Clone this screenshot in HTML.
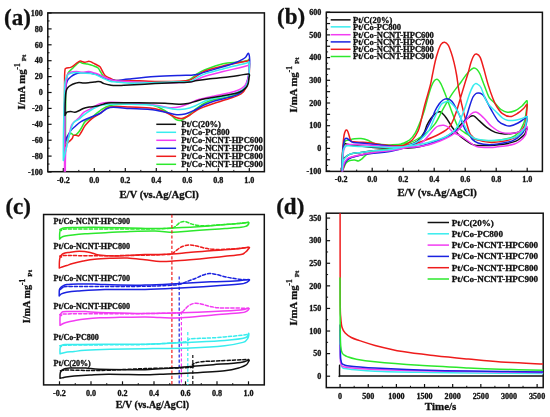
<!DOCTYPE html>
<html><head><meta charset="utf-8"><style>
html,body{margin:0;padding:0;background:#fff;}
svg{display:block;filter:blur(0.35px);}
text{stroke:#111;stroke-width:0.3px;}
</style></head><body>
<svg width="550" height="417" viewBox="0 0 550 417">
<rect width="550" height="417" fill="#fff"/>
<g font-family='"Liberation Serif", serif' font-weight="bold" fill="#111" stroke="none">
<rect x="47.8" y="12.9" width="216.59999999999997" height="158.79999999999998" fill="none" stroke="#111" stroke-width="1.5"/>
<line x1="47.80" y1="172.00" x2="51.60" y2="172.00" stroke="#111" stroke-width="1.2"/>
<text x="42.80" y="174.70" font-size="8.1" text-anchor="end" >-100</text>
<line x1="47.80" y1="156.10" x2="51.60" y2="156.10" stroke="#111" stroke-width="1.2"/>
<text x="42.80" y="158.80" font-size="8.1" text-anchor="end" >-80</text>
<line x1="47.80" y1="140.20" x2="51.60" y2="140.20" stroke="#111" stroke-width="1.2"/>
<text x="42.80" y="142.90" font-size="8.1" text-anchor="end" >-60</text>
<line x1="47.80" y1="124.30" x2="51.60" y2="124.30" stroke="#111" stroke-width="1.2"/>
<text x="42.80" y="127.00" font-size="8.1" text-anchor="end" >-40</text>
<line x1="47.80" y1="108.40" x2="51.60" y2="108.40" stroke="#111" stroke-width="1.2"/>
<text x="42.80" y="111.10" font-size="8.1" text-anchor="end" >-20</text>
<line x1="47.80" y1="92.50" x2="51.60" y2="92.50" stroke="#111" stroke-width="1.2"/>
<text x="42.80" y="95.20" font-size="8.1" text-anchor="end" >0</text>
<line x1="47.80" y1="76.60" x2="51.60" y2="76.60" stroke="#111" stroke-width="1.2"/>
<text x="42.80" y="79.30" font-size="8.1" text-anchor="end" >20</text>
<line x1="47.80" y1="60.70" x2="51.60" y2="60.70" stroke="#111" stroke-width="1.2"/>
<text x="42.80" y="63.40" font-size="8.1" text-anchor="end" >40</text>
<line x1="47.80" y1="44.80" x2="51.60" y2="44.80" stroke="#111" stroke-width="1.2"/>
<text x="42.80" y="47.50" font-size="8.1" text-anchor="end" >60</text>
<line x1="47.80" y1="28.90" x2="51.60" y2="28.90" stroke="#111" stroke-width="1.2"/>
<text x="42.80" y="31.60" font-size="8.1" text-anchor="end" >80</text>
<line x1="47.80" y1="13.00" x2="51.60" y2="13.00" stroke="#111" stroke-width="1.2"/>
<text x="42.80" y="15.70" font-size="8.1" text-anchor="end" >100</text>
<line x1="47.80" y1="164.05" x2="49.60" y2="164.05" stroke="#111" stroke-width="1.0"/>
<line x1="47.80" y1="148.15" x2="49.60" y2="148.15" stroke="#111" stroke-width="1.0"/>
<line x1="47.80" y1="132.25" x2="49.60" y2="132.25" stroke="#111" stroke-width="1.0"/>
<line x1="47.80" y1="116.35" x2="49.60" y2="116.35" stroke="#111" stroke-width="1.0"/>
<line x1="47.80" y1="100.45" x2="49.60" y2="100.45" stroke="#111" stroke-width="1.0"/>
<line x1="47.80" y1="84.55" x2="49.60" y2="84.55" stroke="#111" stroke-width="1.0"/>
<line x1="47.80" y1="68.65" x2="49.60" y2="68.65" stroke="#111" stroke-width="1.0"/>
<line x1="47.80" y1="52.75" x2="49.60" y2="52.75" stroke="#111" stroke-width="1.0"/>
<line x1="47.80" y1="36.85" x2="49.60" y2="36.85" stroke="#111" stroke-width="1.0"/>
<line x1="47.80" y1="20.95" x2="49.60" y2="20.95" stroke="#111" stroke-width="1.0"/>
<line x1="63.30" y1="171.70" x2="63.30" y2="168.10" stroke="#111" stroke-width="1.2"/>
<text x="63.30" y="182.70" font-size="8.1" text-anchor="middle" >-0.2</text>
<line x1="94.30" y1="171.70" x2="94.30" y2="168.10" stroke="#111" stroke-width="1.2"/>
<text x="94.30" y="182.70" font-size="8.1" text-anchor="middle" >0.0</text>
<line x1="125.30" y1="171.70" x2="125.30" y2="168.10" stroke="#111" stroke-width="1.2"/>
<text x="125.30" y="182.70" font-size="8.1" text-anchor="middle" >0.2</text>
<line x1="156.30" y1="171.70" x2="156.30" y2="168.10" stroke="#111" stroke-width="1.2"/>
<text x="156.30" y="182.70" font-size="8.1" text-anchor="middle" >0.4</text>
<line x1="187.30" y1="171.70" x2="187.30" y2="168.10" stroke="#111" stroke-width="1.2"/>
<text x="187.30" y="182.70" font-size="8.1" text-anchor="middle" >0.6</text>
<line x1="218.30" y1="171.70" x2="218.30" y2="168.10" stroke="#111" stroke-width="1.2"/>
<text x="218.30" y="182.70" font-size="8.1" text-anchor="middle" >0.8</text>
<line x1="249.30" y1="171.70" x2="249.30" y2="168.10" stroke="#111" stroke-width="1.2"/>
<text x="249.30" y="182.70" font-size="8.1" text-anchor="middle" >1.0</text>
<line x1="78.80" y1="171.70" x2="78.80" y2="169.90" stroke="#111" stroke-width="1.0"/>
<line x1="109.80" y1="171.70" x2="109.80" y2="169.90" stroke="#111" stroke-width="1.0"/>
<line x1="140.80" y1="171.70" x2="140.80" y2="169.90" stroke="#111" stroke-width="1.0"/>
<line x1="171.80" y1="171.70" x2="171.80" y2="169.90" stroke="#111" stroke-width="1.0"/>
<line x1="202.80" y1="171.70" x2="202.80" y2="169.90" stroke="#111" stroke-width="1.0"/>
<line x1="233.80" y1="171.70" x2="233.80" y2="169.90" stroke="#111" stroke-width="1.0"/>
<rect x="326.3" y="12.3" width="216.09999999999997" height="159.1" fill="none" stroke="#111" stroke-width="1.5"/>
<line x1="326.30" y1="171.10" x2="330.10" y2="171.10" stroke="#111" stroke-width="1.2"/>
<text x="321.30" y="173.80" font-size="8.1" text-anchor="end" >-100</text>
<line x1="326.30" y1="159.75" x2="330.10" y2="159.75" stroke="#111" stroke-width="1.2"/>
<line x1="326.30" y1="148.40" x2="330.10" y2="148.40" stroke="#111" stroke-width="1.2"/>
<text x="321.30" y="151.10" font-size="8.1" text-anchor="end" >0</text>
<line x1="326.30" y1="137.05" x2="330.10" y2="137.05" stroke="#111" stroke-width="1.2"/>
<line x1="326.30" y1="125.70" x2="330.10" y2="125.70" stroke="#111" stroke-width="1.2"/>
<text x="321.30" y="128.40" font-size="8.1" text-anchor="end" >100</text>
<line x1="326.30" y1="114.35" x2="330.10" y2="114.35" stroke="#111" stroke-width="1.2"/>
<line x1="326.30" y1="103.00" x2="330.10" y2="103.00" stroke="#111" stroke-width="1.2"/>
<text x="321.30" y="105.70" font-size="8.1" text-anchor="end" >200</text>
<line x1="326.30" y1="91.65" x2="330.10" y2="91.65" stroke="#111" stroke-width="1.2"/>
<line x1="326.30" y1="80.30" x2="330.10" y2="80.30" stroke="#111" stroke-width="1.2"/>
<text x="321.30" y="83.00" font-size="8.1" text-anchor="end" >300</text>
<line x1="326.30" y1="68.95" x2="330.10" y2="68.95" stroke="#111" stroke-width="1.2"/>
<line x1="326.30" y1="57.60" x2="330.10" y2="57.60" stroke="#111" stroke-width="1.2"/>
<text x="321.30" y="60.30" font-size="8.1" text-anchor="end" >400</text>
<line x1="326.30" y1="46.25" x2="330.10" y2="46.25" stroke="#111" stroke-width="1.2"/>
<line x1="326.30" y1="34.90" x2="330.10" y2="34.90" stroke="#111" stroke-width="1.2"/>
<text x="321.30" y="37.60" font-size="8.1" text-anchor="end" >500</text>
<line x1="326.30" y1="23.55" x2="330.10" y2="23.55" stroke="#111" stroke-width="1.2"/>
<line x1="326.30" y1="12.20" x2="330.10" y2="12.20" stroke="#111" stroke-width="1.2"/>
<text x="321.30" y="14.90" font-size="8.1" text-anchor="end" >600</text>
<line x1="326.30" y1="165.42" x2="328.10" y2="165.42" stroke="#111" stroke-width="1.0"/>
<line x1="326.30" y1="154.07" x2="328.10" y2="154.07" stroke="#111" stroke-width="1.0"/>
<line x1="326.30" y1="142.72" x2="328.10" y2="142.72" stroke="#111" stroke-width="1.0"/>
<line x1="326.30" y1="131.38" x2="328.10" y2="131.38" stroke="#111" stroke-width="1.0"/>
<line x1="326.30" y1="120.03" x2="328.10" y2="120.03" stroke="#111" stroke-width="1.0"/>
<line x1="326.30" y1="108.68" x2="328.10" y2="108.68" stroke="#111" stroke-width="1.0"/>
<line x1="326.30" y1="97.33" x2="328.10" y2="97.33" stroke="#111" stroke-width="1.0"/>
<line x1="326.30" y1="85.98" x2="328.10" y2="85.98" stroke="#111" stroke-width="1.0"/>
<line x1="326.30" y1="74.62" x2="328.10" y2="74.62" stroke="#111" stroke-width="1.0"/>
<line x1="326.30" y1="63.28" x2="328.10" y2="63.28" stroke="#111" stroke-width="1.0"/>
<line x1="326.30" y1="51.92" x2="328.10" y2="51.92" stroke="#111" stroke-width="1.0"/>
<line x1="326.30" y1="40.58" x2="328.10" y2="40.58" stroke="#111" stroke-width="1.0"/>
<line x1="326.30" y1="29.23" x2="328.10" y2="29.23" stroke="#111" stroke-width="1.0"/>
<line x1="326.30" y1="17.88" x2="328.10" y2="17.88" stroke="#111" stroke-width="1.0"/>
<line x1="341.20" y1="171.40" x2="341.20" y2="167.80" stroke="#111" stroke-width="1.2"/>
<text x="341.20" y="182.40" font-size="8.1" text-anchor="middle" >-0.2</text>
<line x1="372.20" y1="171.40" x2="372.20" y2="167.80" stroke="#111" stroke-width="1.2"/>
<text x="372.20" y="182.40" font-size="8.1" text-anchor="middle" >0.0</text>
<line x1="403.20" y1="171.40" x2="403.20" y2="167.80" stroke="#111" stroke-width="1.2"/>
<text x="403.20" y="182.40" font-size="8.1" text-anchor="middle" >0.2</text>
<line x1="434.20" y1="171.40" x2="434.20" y2="167.80" stroke="#111" stroke-width="1.2"/>
<text x="434.20" y="182.40" font-size="8.1" text-anchor="middle" >0.4</text>
<line x1="465.20" y1="171.40" x2="465.20" y2="167.80" stroke="#111" stroke-width="1.2"/>
<text x="465.20" y="182.40" font-size="8.1" text-anchor="middle" >0.6</text>
<line x1="496.20" y1="171.40" x2="496.20" y2="167.80" stroke="#111" stroke-width="1.2"/>
<text x="496.20" y="182.40" font-size="8.1" text-anchor="middle" >0.8</text>
<line x1="527.20" y1="171.40" x2="527.20" y2="167.80" stroke="#111" stroke-width="1.2"/>
<text x="527.20" y="182.40" font-size="8.1" text-anchor="middle" >1.0</text>
<line x1="356.70" y1="171.40" x2="356.70" y2="169.60" stroke="#111" stroke-width="1.0"/>
<line x1="387.70" y1="171.40" x2="387.70" y2="169.60" stroke="#111" stroke-width="1.0"/>
<line x1="418.70" y1="171.40" x2="418.70" y2="169.60" stroke="#111" stroke-width="1.0"/>
<line x1="449.70" y1="171.40" x2="449.70" y2="169.60" stroke="#111" stroke-width="1.0"/>
<line x1="480.70" y1="171.40" x2="480.70" y2="169.60" stroke="#111" stroke-width="1.0"/>
<line x1="511.70" y1="171.40" x2="511.70" y2="169.60" stroke="#111" stroke-width="1.0"/>
<rect x="43.6" y="214.5" width="220.70000000000002" height="170.39999999999998" fill="none" stroke="#111" stroke-width="1.5"/>
<line x1="59.50" y1="384.90" x2="59.50" y2="381.30" stroke="#111" stroke-width="1.2"/>
<text x="59.50" y="395.90" font-size="8.1" text-anchor="middle" >-0.2</text>
<line x1="91.00" y1="384.90" x2="91.00" y2="381.30" stroke="#111" stroke-width="1.2"/>
<text x="91.00" y="395.90" font-size="8.1" text-anchor="middle" >0.0</text>
<line x1="122.50" y1="384.90" x2="122.50" y2="381.30" stroke="#111" stroke-width="1.2"/>
<text x="122.50" y="395.90" font-size="8.1" text-anchor="middle" >0.2</text>
<line x1="154.00" y1="384.90" x2="154.00" y2="381.30" stroke="#111" stroke-width="1.2"/>
<text x="154.00" y="395.90" font-size="8.1" text-anchor="middle" >0.4</text>
<line x1="185.50" y1="384.90" x2="185.50" y2="381.30" stroke="#111" stroke-width="1.2"/>
<text x="185.50" y="395.90" font-size="8.1" text-anchor="middle" >0.6</text>
<line x1="217.00" y1="384.90" x2="217.00" y2="381.30" stroke="#111" stroke-width="1.2"/>
<text x="217.00" y="395.90" font-size="8.1" text-anchor="middle" >0.8</text>
<line x1="248.50" y1="384.90" x2="248.50" y2="381.30" stroke="#111" stroke-width="1.2"/>
<text x="248.50" y="395.90" font-size="8.1" text-anchor="middle" >1.0</text>
<line x1="75.25" y1="384.90" x2="75.25" y2="383.10" stroke="#111" stroke-width="1.0"/>
<line x1="106.75" y1="384.90" x2="106.75" y2="383.10" stroke="#111" stroke-width="1.0"/>
<line x1="138.25" y1="384.90" x2="138.25" y2="383.10" stroke="#111" stroke-width="1.0"/>
<line x1="169.75" y1="384.90" x2="169.75" y2="383.10" stroke="#111" stroke-width="1.0"/>
<line x1="201.25" y1="384.90" x2="201.25" y2="383.10" stroke="#111" stroke-width="1.0"/>
<line x1="232.75" y1="384.90" x2="232.75" y2="383.10" stroke="#111" stroke-width="1.0"/>
<rect x="326.3" y="213.2" width="216.90000000000003" height="174.40000000000003" fill="none" stroke="#111" stroke-width="1.5"/>
<line x1="326.30" y1="376.20" x2="330.10" y2="376.20" stroke="#111" stroke-width="1.2"/>
<text x="321.30" y="378.90" font-size="8.1" text-anchor="end" >0</text>
<line x1="326.30" y1="353.62" x2="330.10" y2="353.62" stroke="#111" stroke-width="1.2"/>
<text x="321.30" y="356.31" font-size="8.1" text-anchor="end" >50</text>
<line x1="326.30" y1="331.03" x2="330.10" y2="331.03" stroke="#111" stroke-width="1.2"/>
<text x="321.30" y="333.73" font-size="8.1" text-anchor="end" >100</text>
<line x1="326.30" y1="308.44" x2="330.10" y2="308.44" stroke="#111" stroke-width="1.2"/>
<text x="321.30" y="311.14" font-size="8.1" text-anchor="end" >150</text>
<line x1="326.30" y1="285.86" x2="330.10" y2="285.86" stroke="#111" stroke-width="1.2"/>
<text x="321.30" y="288.56" font-size="8.1" text-anchor="end" >200</text>
<line x1="326.30" y1="263.27" x2="330.10" y2="263.27" stroke="#111" stroke-width="1.2"/>
<text x="321.30" y="265.97" font-size="8.1" text-anchor="end" >250</text>
<line x1="326.30" y1="240.69" x2="330.10" y2="240.69" stroke="#111" stroke-width="1.2"/>
<text x="321.30" y="243.39" font-size="8.1" text-anchor="end" >300</text>
<line x1="326.30" y1="218.10" x2="330.10" y2="218.10" stroke="#111" stroke-width="1.2"/>
<text x="321.30" y="220.80" font-size="8.1" text-anchor="end" >350</text>
<line x1="326.30" y1="387.49" x2="328.10" y2="387.49" stroke="#111" stroke-width="1.0"/>
<line x1="326.30" y1="364.91" x2="328.10" y2="364.91" stroke="#111" stroke-width="1.0"/>
<line x1="326.30" y1="342.32" x2="328.10" y2="342.32" stroke="#111" stroke-width="1.0"/>
<line x1="326.30" y1="319.74" x2="328.10" y2="319.74" stroke="#111" stroke-width="1.0"/>
<line x1="326.30" y1="297.15" x2="328.10" y2="297.15" stroke="#111" stroke-width="1.0"/>
<line x1="326.30" y1="274.57" x2="328.10" y2="274.57" stroke="#111" stroke-width="1.0"/>
<line x1="326.30" y1="251.98" x2="328.10" y2="251.98" stroke="#111" stroke-width="1.0"/>
<line x1="326.30" y1="229.40" x2="328.10" y2="229.40" stroke="#111" stroke-width="1.0"/>
<line x1="340.10" y1="387.60" x2="340.10" y2="384.00" stroke="#111" stroke-width="1.2"/>
<text x="340.10" y="398.60" font-size="8.1" text-anchor="middle" >0</text>
<line x1="368.25" y1="387.60" x2="368.25" y2="384.00" stroke="#111" stroke-width="1.2"/>
<text x="368.25" y="398.60" font-size="8.1" text-anchor="middle" >500</text>
<line x1="396.39" y1="387.60" x2="396.39" y2="384.00" stroke="#111" stroke-width="1.2"/>
<text x="396.39" y="398.60" font-size="8.1" text-anchor="middle" >1000</text>
<line x1="424.54" y1="387.60" x2="424.54" y2="384.00" stroke="#111" stroke-width="1.2"/>
<text x="424.54" y="398.60" font-size="8.1" text-anchor="middle" >1500</text>
<line x1="452.68" y1="387.60" x2="452.68" y2="384.00" stroke="#111" stroke-width="1.2"/>
<text x="452.68" y="398.60" font-size="8.1" text-anchor="middle" >2000</text>
<line x1="480.83" y1="387.60" x2="480.83" y2="384.00" stroke="#111" stroke-width="1.2"/>
<text x="480.83" y="398.60" font-size="8.1" text-anchor="middle" >2500</text>
<line x1="508.97" y1="387.60" x2="508.97" y2="384.00" stroke="#111" stroke-width="1.2"/>
<text x="508.97" y="398.60" font-size="8.1" text-anchor="middle" >3000</text>
<line x1="537.12" y1="387.60" x2="537.12" y2="384.00" stroke="#111" stroke-width="1.2"/>
<text x="537.12" y="398.60" font-size="8.1" text-anchor="middle" >3500</text>
<line x1="354.17" y1="387.60" x2="354.17" y2="385.80" stroke="#111" stroke-width="1.0"/>
<line x1="382.32" y1="387.60" x2="382.32" y2="385.80" stroke="#111" stroke-width="1.0"/>
<line x1="410.46" y1="387.60" x2="410.46" y2="385.80" stroke="#111" stroke-width="1.0"/>
<line x1="438.61" y1="387.60" x2="438.61" y2="385.80" stroke="#111" stroke-width="1.0"/>
<line x1="466.75" y1="387.60" x2="466.75" y2="385.80" stroke="#111" stroke-width="1.0"/>
<line x1="494.90" y1="387.60" x2="494.90" y2="385.80" stroke="#111" stroke-width="1.0"/>
<line x1="523.04" y1="387.60" x2="523.04" y2="385.80" stroke="#111" stroke-width="1.0"/>
<text x="4.00" y="24.60" font-size="23" text-anchor="start" >(a)</text>
<text x="277.00" y="24.00" font-size="23" text-anchor="start" >(b)</text>
<text x="5.40" y="214.00" font-size="23" text-anchor="start" >(c)</text>
<text x="276.20" y="214.40" font-size="23" text-anchor="start" >(d)</text>
<text x="159.10" y="197.50" font-size="10.7" text-anchor="middle" >E/V (vs.Ag/AgCl)</text>
<text x="437.20" y="196.20" font-size="10.7" text-anchor="middle" >E/V (vs.Ag/AgCl)</text>
<text x="152.30" y="407.90" font-size="9.9" text-anchor="middle" >E/V (vs.Ag/AgCl)</text>
<text x="440.60" y="410.10" font-size="11" text-anchor="middle" >Time/s</text>
<text transform="translate(24.6,109.6) rotate(-90)" font-size="10.7" text-anchor="start">I/mA mg<tspan font-size="7.4" dy="-5.0">-1</tspan><tspan font-size="7.0" dy="6.7" dx="2.2">Pt</tspan></text>
<text transform="translate(297.0,112.4) rotate(-90)" font-size="10.7" text-anchor="start">I/mA mg<tspan font-size="7.4" dy="-5.0">-1</tspan><tspan font-size="7.0" dy="6.7" dx="2.2">Pt</tspan></text>
<text transform="translate(30.3,323.2) rotate(-90)" font-size="10.2" text-anchor="start">I/mA mg<tspan font-size="7.4" dy="-5.0">-1</tspan><tspan font-size="7.0" dy="6.7" dx="2.2">Pt</tspan></text>
<text transform="translate(297.0,325.6) rotate(-90)" font-size="10.7" text-anchor="start">I/mA mg<tspan font-size="7.4" dy="-5.0">-1</tspan><tspan font-size="7.0" dy="6.7" dx="2.2">Pt</tspan></text>
<defs>
<clipPath id="ca"><rect x="47.8" y="12.9" width="216.59999999999997" height="158.79999999999998"/></clipPath>
<clipPath id="cb"><rect x="326.3" y="12.3" width="216.09999999999997" height="159.1"/></clipPath>
<clipPath id="cc"><rect x="43.6" y="214.5" width="220.70000000000002" height="170.39999999999998"/></clipPath>
<clipPath id="cd"><rect x="326.3" y="213.2" width="216.90000000000003" height="174.40000000000003"/></clipPath>
</defs>
<g clip-path="url(#ca)">
<path d="M65.50,143.00 C65.50,140.83 65.47,136.33 65.50,130.00 C65.53,123.67 65.62,112.00 65.70,105.00 C65.78,98.00 65.82,92.50 66.00,88.00 C66.18,83.50 66.43,80.53 66.80,78.00 C67.17,75.47 67.17,74.47 68.20,72.80 C69.23,71.13 71.60,69.40 73.00,68.00 C74.40,66.60 75.50,65.40 76.60,64.40 C77.70,63.40 78.60,62.20 79.60,62.00 C80.60,61.80 81.30,62.85 82.60,63.20 C83.90,63.55 86.00,63.80 87.40,64.10 C88.80,64.40 89.82,64.65 91.00,65.00 C92.18,65.35 93.32,65.70 94.50,66.20 C95.68,66.70 97.18,67.20 98.10,68.00 C99.02,68.80 99.18,69.70 100.00,71.00 C100.82,72.30 101.92,74.60 103.00,75.80 C104.08,77.00 105.33,77.60 106.50,78.20 C107.67,78.80 108.45,78.97 110.00,79.40 C111.55,79.83 112.63,80.40 115.80,80.80 C118.97,81.20 122.47,81.53 129.00,81.80 C135.53,82.07 146.67,82.37 155.00,82.40 C163.33,82.43 173.20,82.50 179.00,82.00 C184.80,81.50 186.80,80.73 189.80,79.40 C192.80,78.07 194.47,75.60 197.00,74.00 C199.53,72.40 200.67,71.50 205.00,69.80 C209.33,68.10 217.40,65.10 223.00,63.80 C228.60,62.50 234.52,62.57 238.60,62.00 C242.68,61.43 245.77,60.78 247.50,60.40 C249.23,60.02 248.70,58.43 249.00,59.70 C249.30,60.97 249.38,64.95 249.30,68.00 C249.22,71.05 249.05,75.00 248.50,78.00 C247.95,81.00 247.25,83.67 246.00,86.00 C244.75,88.33 243.67,90.25 241.00,92.00 C238.33,93.75 234.43,95.23 230.00,96.50 C225.57,97.77 218.57,98.52 214.40,99.60 C210.23,100.68 207.90,101.60 205.00,103.00 C202.10,104.40 199.50,106.17 197.00,108.00 C194.50,109.83 192.50,112.00 190.00,114.00 C187.50,116.00 184.33,119.08 182.00,120.00 C179.67,120.92 178.00,120.50 176.00,119.50 C174.00,118.50 172.67,115.92 170.00,114.00 C167.33,112.08 163.33,109.58 160.00,108.00 C156.67,106.42 155.00,105.17 150.00,104.50 C145.00,103.83 136.67,103.83 130.00,104.00 C123.33,104.17 115.02,104.37 110.00,105.50 C104.98,106.63 102.92,108.82 99.90,110.80 C96.88,112.78 94.33,115.63 91.90,117.40 C89.47,119.17 87.05,119.63 85.30,121.40 C83.55,123.17 82.50,126.23 81.40,128.00 C80.30,129.77 79.58,130.90 78.70,132.00 C77.82,133.10 76.97,134.07 76.10,134.60 C75.23,135.13 74.38,135.42 73.50,135.20 C72.62,134.98 71.68,133.08 70.80,133.30 C69.92,133.52 68.95,135.30 68.20,136.50 C67.45,137.70 66.75,139.42 66.30,140.50 C65.85,141.58 65.63,142.58 65.50,143.00" fill="none" stroke="#2CE82C" stroke-width="1.5" stroke-linejoin="round" stroke-linecap="round" />
<path d="M64.60,148.00 C64.58,144.17 64.52,133.83 64.50,125.00 C64.48,116.17 64.48,103.17 64.50,95.00 C64.52,86.83 64.52,80.17 64.60,76.00 C64.68,71.83 64.80,71.27 65.00,70.00 C65.20,68.73 64.87,68.83 65.80,68.40 C66.73,67.97 69.40,67.77 70.60,67.40 C71.80,67.03 72.00,66.90 73.00,66.20 C74.00,65.50 75.40,64.05 76.60,63.20 C77.80,62.35 79.20,61.35 80.20,61.10 C81.20,60.85 81.80,61.50 82.60,61.70 C83.40,61.90 84.10,62.35 85.00,62.30 C85.90,62.25 87.10,61.52 88.00,61.40 C88.90,61.28 89.52,61.30 90.40,61.60 C91.28,61.90 92.20,62.63 93.30,63.20 C94.40,63.77 95.88,64.40 97.00,65.00 C98.12,65.60 99.12,65.80 100.00,66.80 C100.88,67.80 101.42,69.50 102.30,71.00 C103.18,72.50 104.02,74.60 105.30,75.80 C106.58,77.00 108.25,77.42 110.00,78.20 C111.75,78.98 112.63,80.13 115.80,80.50 C118.97,80.87 122.47,80.25 129.00,80.40 C135.53,80.55 146.67,81.27 155.00,81.40 C163.33,81.53 173.20,81.43 179.00,81.20 C184.80,80.97 186.80,80.90 189.80,80.00 C192.80,79.10 194.47,77.30 197.00,75.80 C199.53,74.30 200.67,72.65 205.00,71.00 C209.33,69.35 217.40,67.27 223.00,65.90 C228.60,64.53 234.52,63.60 238.60,62.80 C242.68,62.00 245.77,61.48 247.50,61.10 C249.23,60.72 248.68,59.02 249.00,60.50 C249.32,61.98 249.42,67.20 249.40,70.00 C249.38,72.80 249.38,74.47 248.90,77.30 C248.42,80.13 247.82,84.22 246.50,87.00 C245.18,89.78 243.95,92.03 241.00,94.00 C238.05,95.97 233.23,97.27 228.80,98.80 C224.37,100.33 218.37,101.92 214.40,103.20 C210.43,104.48 207.90,105.37 205.00,106.50 C202.10,107.63 199.50,108.58 197.00,110.00 C194.50,111.42 192.50,113.58 190.00,115.00 C187.50,116.42 184.33,118.08 182.00,118.50 C179.67,118.92 178.00,118.17 176.00,117.50 C174.00,116.83 172.67,115.75 170.00,114.50 C167.33,113.25 163.33,111.08 160.00,110.00 C156.67,108.92 155.00,108.50 150.00,108.00 C145.00,107.50 136.67,107.17 130.00,107.00 C123.33,106.83 115.02,105.92 110.00,107.00 C104.98,108.08 102.92,111.55 99.90,113.50 C96.88,115.45 94.33,116.73 91.90,118.70 C89.47,120.67 87.05,123.08 85.30,125.30 C83.55,127.52 82.50,130.23 81.40,132.00 C80.30,133.77 79.58,135.37 78.70,135.90 C77.82,136.43 76.97,135.27 76.10,135.20 C75.23,135.13 74.15,134.95 73.50,135.50 C72.85,136.05 72.87,137.55 72.20,138.50 C71.53,139.45 70.38,140.32 69.50,141.20 C68.62,142.08 67.67,142.80 66.90,143.80 C66.13,144.80 65.28,146.50 64.90,147.20 C64.52,147.90 64.65,147.87 64.60,148.00" fill="none" stroke="#EE1C1C" stroke-width="1.5" stroke-linejoin="round" stroke-linecap="round" />
<path d="M64.50,143.70 C64.50,140.58 64.48,131.45 64.50,125.00 C64.52,118.55 64.48,110.50 64.60,105.00 C64.72,99.50 64.93,95.33 65.20,92.00 C65.47,88.67 65.82,86.92 66.20,85.00 C66.58,83.08 66.77,81.83 67.50,80.50 C68.23,79.17 69.28,78.08 70.60,77.00 C71.92,75.92 73.80,74.70 75.40,74.00 C77.00,73.30 78.40,73.00 80.20,72.80 C82.00,72.60 84.22,72.70 86.20,72.80 C88.18,72.90 90.30,73.10 92.10,73.40 C93.90,73.70 95.40,74.00 97.00,74.60 C98.60,75.20 100.12,76.30 101.70,77.00 C103.28,77.70 105.12,78.40 106.50,78.80 C107.88,79.20 108.45,79.12 110.00,79.40 C111.55,79.68 112.63,80.57 115.80,80.50 C118.97,80.43 122.47,79.65 129.00,79.00 C135.53,78.35 146.67,77.20 155.00,76.60 C163.33,76.00 173.20,75.63 179.00,75.40 C184.80,75.17 186.80,75.33 189.80,75.20 C192.80,75.07 194.47,75.12 197.00,74.60 C199.53,74.08 200.67,73.40 205.00,72.10 C209.33,70.80 218.33,68.23 223.00,66.80 C227.67,65.37 230.50,64.37 233.00,63.50 C235.50,62.63 236.50,62.25 238.00,61.60 C239.50,60.95 240.73,60.33 242.00,59.60 C243.27,58.87 244.52,58.23 245.60,57.20 C246.68,56.17 247.82,52.93 248.50,53.40 C249.18,53.87 249.57,57.23 249.70,60.00 C249.83,62.77 249.55,67.12 249.30,70.00 C249.05,72.88 248.98,74.28 248.20,77.30 C247.42,80.32 246.15,85.35 244.60,88.10 C243.05,90.85 241.53,92.25 238.90,93.80 C236.27,95.35 232.88,96.20 228.80,97.40 C224.72,98.60 218.37,99.82 214.40,101.00 C210.43,102.18 208.23,103.00 205.00,104.50 C201.77,106.00 198.33,108.42 195.00,110.00 C191.67,111.58 188.33,113.25 185.00,114.00 C181.67,114.75 178.33,114.83 175.00,114.50 C171.67,114.17 169.17,112.83 165.00,112.00 C160.83,111.17 155.83,110.08 150.00,109.50 C144.17,108.92 136.67,108.83 130.00,108.50 C123.33,108.17 115.02,106.67 110.00,107.50 C104.98,108.33 102.92,111.95 99.90,113.50 C96.88,115.05 94.98,115.48 91.90,116.80 C88.82,118.12 84.25,119.75 81.40,121.40 C78.55,123.05 76.57,125.17 74.80,126.70 C73.03,128.23 72.12,128.85 70.80,130.60 C69.48,132.35 67.95,135.02 66.90,137.20 C65.85,139.38 64.90,142.62 64.50,143.70" fill="none" stroke="#1A22E0" stroke-width="1.5" stroke-linejoin="round" stroke-linecap="round" />
<path d="M64.50,175.00 C64.52,170.83 64.52,160.00 64.60,150.00 C64.68,140.00 64.83,124.67 65.00,115.00 C65.17,105.33 65.43,97.17 65.60,92.00 C65.77,86.83 65.83,86.17 66.00,84.00 C66.17,81.83 66.33,80.58 66.60,79.00 C66.87,77.42 66.93,75.63 67.60,74.50 C68.27,73.37 69.10,72.68 70.60,72.20 C72.10,71.72 74.60,71.60 76.60,71.60 C78.60,71.60 80.60,72.20 82.60,72.20 C84.60,72.20 86.62,71.47 88.60,71.60 C90.58,71.73 92.72,72.50 94.50,73.00 C96.28,73.50 97.70,73.93 99.30,74.60 C100.90,75.27 102.32,76.20 104.10,77.00 C105.88,77.80 108.05,78.77 110.00,79.40 C111.95,80.03 112.63,80.43 115.80,80.80 C118.97,81.17 121.63,81.27 129.00,81.60 C136.37,81.93 151.67,82.63 160.00,82.80 C168.33,82.97 174.03,82.72 179.00,82.60 C183.97,82.48 186.80,82.63 189.80,82.10 C192.80,81.57 194.47,80.37 197.00,79.40 C199.53,78.43 200.67,77.62 205.00,76.30 C209.33,74.98 217.40,72.88 223.00,71.50 C228.60,70.12 234.52,68.98 238.60,68.00 C242.68,67.02 245.77,66.10 247.50,65.60 C249.23,65.10 248.73,64.27 249.00,65.00 C249.27,65.73 249.18,68.25 249.10,70.00 C249.02,71.75 248.80,73.67 248.50,75.50 C248.20,77.33 247.97,79.27 247.30,81.00 C246.63,82.73 245.97,84.40 244.50,85.90 C243.03,87.40 241.12,88.80 238.50,90.00 C235.88,91.20 232.82,92.10 228.80,93.10 C224.78,94.10 218.37,95.18 214.40,96.00 C210.43,96.82 207.90,97.33 205.00,98.00 C202.10,98.67 199.50,99.17 197.00,100.00 C194.50,100.83 192.83,101.87 190.00,103.00 C187.17,104.13 183.33,106.00 180.00,106.80 C176.67,107.60 173.33,107.93 170.00,107.80 C166.67,107.67 163.33,106.55 160.00,106.00 C156.67,105.45 155.00,105.00 150.00,104.50 C145.00,104.00 136.67,103.37 130.00,103.00 C123.33,102.63 115.02,102.20 110.00,102.30 C104.98,102.40 102.92,102.62 99.90,103.60 C96.88,104.58 94.55,106.77 91.90,108.20 C89.25,109.63 86.20,110.55 84.00,112.20 C81.80,113.85 80.23,116.57 78.70,118.10 C77.17,119.63 75.98,120.25 74.80,121.40 C73.62,122.55 72.48,123.07 71.60,125.00 C70.72,126.93 70.22,130.00 69.50,133.00 C68.78,136.00 67.95,139.53 67.30,143.00 C66.65,146.47 65.93,148.47 65.60,153.80 C65.27,159.13 65.35,171.47 65.30,175.00" fill="none" stroke="#F23CF2" stroke-width="1.5" stroke-linejoin="round" stroke-linecap="round" />
<path d="M63.30,160.50 C63.32,157.08 63.32,147.58 63.40,140.00 C63.48,132.42 63.63,122.50 63.80,115.00 C63.97,107.50 64.20,100.50 64.40,95.00 C64.60,89.50 64.57,85.20 65.00,82.00 C65.43,78.80 66.07,77.23 67.00,75.80 C67.93,74.37 69.00,73.95 70.60,73.40 C72.20,72.85 74.60,72.55 76.60,72.50 C78.60,72.45 80.20,72.95 82.60,73.10 C85.00,73.25 88.60,73.05 91.00,73.40 C93.40,73.75 95.00,74.40 97.00,75.20 C99.00,76.00 100.83,77.20 103.00,78.20 C105.17,79.20 107.87,80.57 110.00,81.20 C112.13,81.83 112.63,81.67 115.80,82.00 C118.97,82.33 122.47,83.13 129.00,83.20 C135.53,83.27 146.67,82.63 155.00,82.40 C163.33,82.17 173.20,81.97 179.00,81.80 C184.80,81.63 186.80,82.10 189.80,81.40 C192.80,80.70 194.47,78.85 197.00,77.60 C199.53,76.35 200.67,75.35 205.00,73.90 C209.33,72.45 217.40,70.38 223.00,68.90 C228.60,67.42 234.52,66.02 238.60,65.00 C242.68,63.98 245.77,63.30 247.50,62.80 C249.23,62.30 248.70,60.80 249.00,62.00 C249.30,63.20 249.33,67.45 249.30,70.00 C249.27,72.55 249.10,75.13 248.80,77.30 C248.50,79.47 248.20,81.22 247.50,83.00 C246.80,84.78 246.03,86.55 244.60,88.00 C243.17,89.45 241.53,90.48 238.90,91.70 C236.27,92.92 232.88,94.22 228.80,95.30 C224.72,96.38 218.37,97.25 214.40,98.20 C210.43,99.15 208.23,99.70 205.00,101.00 C201.77,102.30 198.33,104.67 195.00,106.00 C191.67,107.33 188.33,108.47 185.00,109.00 C181.67,109.53 178.33,109.45 175.00,109.20 C171.67,108.95 169.17,108.20 165.00,107.50 C160.83,106.80 155.83,105.55 150.00,105.00 C144.17,104.45 136.67,104.33 130.00,104.20 C123.33,104.07 115.00,103.98 110.00,104.20 C105.00,104.42 103.02,104.62 100.00,105.50 C96.98,106.38 94.57,107.95 91.90,109.50 C89.23,111.05 86.20,113.15 84.00,114.80 C81.80,116.45 80.45,118.08 78.70,119.40 C76.95,120.72 74.88,120.77 73.50,122.70 C72.12,124.63 71.40,127.62 70.40,131.00 C69.40,134.38 68.37,139.42 67.50,143.00 C66.63,146.58 65.90,149.58 65.20,152.50 C64.50,155.42 63.62,159.17 63.30,160.50" fill="none" stroke="#38ECEE" stroke-width="1.5" stroke-linejoin="round" stroke-linecap="round" />
<path d="M65.00,115.40 C65.03,113.50 65.10,107.40 65.20,104.00 C65.30,100.60 65.42,97.25 65.60,95.00 C65.78,92.75 65.98,91.67 66.30,90.50 C66.62,89.33 66.78,88.85 67.50,88.00 C68.22,87.15 69.28,86.18 70.60,85.40 C71.92,84.62 74.00,83.80 75.40,83.30 C76.80,82.80 77.60,82.45 79.00,82.40 C80.40,82.35 82.00,82.97 83.80,83.00 C85.60,83.03 88.02,82.75 89.80,82.60 C91.58,82.45 93.12,82.30 94.50,82.10 C95.88,81.90 97.10,81.45 98.10,81.40 C99.10,81.35 99.50,81.43 100.50,81.80 C101.50,82.17 102.52,83.07 104.10,83.60 C105.68,84.13 108.05,84.67 110.00,85.00 C111.95,85.33 112.63,85.60 115.80,85.60 C118.97,85.60 122.47,85.33 129.00,85.00 C135.53,84.67 146.67,84.00 155.00,83.60 C163.33,83.20 173.20,82.85 179.00,82.60 C184.80,82.35 186.80,82.43 189.80,82.10 C192.80,81.77 193.63,81.15 197.00,80.60 C200.37,80.05 205.67,79.32 210.00,78.80 C214.33,78.28 218.23,78.05 223.00,77.50 C227.77,76.95 234.32,76.08 238.60,75.50 C242.88,74.92 246.98,73.58 248.70,74.00 C250.42,74.42 248.97,76.50 248.90,78.00 C248.83,79.50 248.70,81.50 248.30,83.00 C247.90,84.50 247.38,85.80 246.50,87.00 C245.62,88.20 244.58,89.20 243.00,90.20 C241.42,91.20 240.50,92.03 237.00,93.00 C233.50,93.97 227.33,95.03 222.00,96.00 C216.67,96.97 209.50,97.88 205.00,98.80 C200.50,99.72 197.83,100.72 195.00,101.50 C192.17,102.28 190.50,103.03 188.00,103.50 C185.50,103.97 183.83,104.33 180.00,104.30 C176.17,104.27 170.00,103.52 165.00,103.30 C160.00,103.08 155.83,103.08 150.00,103.00 C144.17,102.92 136.50,102.83 130.00,102.80 C123.50,102.77 115.33,102.62 111.00,102.80 C106.67,102.98 106.30,103.37 104.00,103.90 C101.70,104.43 99.65,105.47 97.20,106.00 C94.75,106.53 91.50,106.73 89.30,107.10 C87.10,107.47 85.77,107.58 84.00,108.20 C82.23,108.82 80.23,110.13 78.70,110.80 C77.17,111.47 76.12,112.08 74.80,112.20 C73.48,112.32 72.12,111.50 70.80,111.50 C69.48,111.50 67.87,111.55 66.90,112.20 C65.93,112.85 65.32,114.87 65.00,115.40" fill="none" stroke="#111111" stroke-width="1.5" stroke-linejoin="round" stroke-linecap="round" />
</g>
<g clip-path="url(#cb)">
<path d="M342.90,158.00 C342.88,157.00 342.75,153.75 342.80,152.00 C342.85,150.25 342.98,148.73 343.20,147.50 C343.42,146.27 343.73,145.25 344.10,144.60 C344.47,143.95 344.88,143.65 345.40,143.60 C345.92,143.55 345.65,143.97 347.20,144.30 C348.75,144.63 350.33,145.08 354.70,145.60 C359.07,146.12 367.35,147.00 373.40,147.40 C379.45,147.80 384.07,147.98 391.00,148.00 C397.93,148.02 408.50,148.17 415.00,147.50 C421.50,146.83 425.50,145.42 430.00,144.00 C434.50,142.58 438.28,140.67 442.00,139.00 C445.72,137.33 449.63,135.92 452.30,134.00 C454.97,132.08 456.08,129.58 458.00,127.50 C459.92,125.42 461.90,123.25 463.80,121.50 C465.70,119.75 467.75,117.93 469.40,117.00 C471.05,116.07 472.02,115.25 473.70,115.90 C475.38,116.55 477.33,118.98 479.50,120.90 C481.67,122.82 484.07,125.48 486.70,127.40 C489.33,129.32 492.35,131.32 495.30,132.40 C498.25,133.48 501.12,133.80 504.40,133.90 C507.68,134.00 512.07,133.57 515.00,133.00 C517.93,132.43 519.98,131.32 522.00,130.50 C524.02,129.68 526.43,128.02 527.10,128.10 C527.77,128.18 526.42,129.93 526.00,131.00 C525.58,132.07 525.60,133.25 524.60,134.50 C523.60,135.75 521.45,137.40 520.00,138.50 C518.55,139.60 518.40,140.18 515.90,141.10 C513.40,142.02 509.32,143.28 505.00,144.00 C500.68,144.72 494.73,145.17 490.00,145.40 C485.27,145.63 479.77,145.65 476.60,145.40 C473.43,145.15 473.37,145.13 471.00,143.90 C468.63,142.67 464.57,139.65 462.40,138.00 C460.23,136.35 459.68,135.75 458.00,134.00 C456.32,132.25 454.22,130.13 452.30,127.50 C450.38,124.87 448.22,120.62 446.50,118.20 C444.78,115.78 443.20,114.08 442.00,113.00 C440.80,111.92 440.47,111.57 439.30,111.70 C438.13,111.83 436.43,112.63 435.00,113.80 C433.57,114.97 432.03,116.83 430.70,118.70 C429.37,120.57 428.15,122.60 427.00,125.00 C425.85,127.40 425.52,130.32 423.80,133.10 C422.08,135.88 419.57,139.63 416.70,141.70 C413.83,143.77 410.88,144.22 406.60,145.50 C402.32,146.78 396.53,148.53 391.00,149.40 C385.47,150.27 378.40,150.20 373.40,150.70 C368.40,151.20 364.73,151.87 361.00,152.40 C357.27,152.93 353.50,153.20 351.00,153.90 C348.50,154.60 347.25,155.77 346.00,156.60 C344.75,157.43 344.02,158.67 343.50,158.90 C342.98,159.13 343.00,158.15 342.90,158.00" fill="none" stroke="#111111" stroke-width="1.5" stroke-linejoin="round" stroke-linecap="round" />
<path d="M341.80,172.00 C341.88,169.67 342.07,162.17 342.30,158.00 C342.53,153.83 342.83,149.67 343.20,147.00 C343.57,144.33 343.95,143.10 344.50,142.00 C345.05,140.90 345.83,140.73 346.50,140.40 C347.17,140.07 347.13,140.28 348.50,140.00 C349.87,139.72 352.62,138.95 354.70,138.70 C356.78,138.45 358.92,138.28 361.00,138.50 C363.08,138.72 365.13,139.23 367.20,140.00 C369.27,140.77 371.33,142.38 373.40,143.10 C375.47,143.82 376.67,144.00 379.60,144.30 C382.53,144.60 385.93,145.20 391.00,144.90 C396.07,144.60 404.33,144.32 410.00,142.50 C415.67,140.68 420.83,137.10 425.00,134.00 C429.17,130.90 431.90,128.22 435.00,123.90 C438.10,119.58 440.72,113.13 443.60,108.10 C446.48,103.07 449.42,98.02 452.30,93.70 C455.18,89.38 458.62,85.32 460.90,82.20 C463.18,79.08 464.48,76.95 466.00,75.00 C467.52,73.05 468.72,71.65 470.00,70.50 C471.28,69.35 472.53,68.27 473.70,68.10 C474.87,67.93 475.95,68.52 477.00,69.50 C478.05,70.48 479.00,71.92 480.00,74.00 C481.00,76.08 481.88,79.03 483.00,82.00 C484.12,84.97 485.62,89.13 486.70,91.80 C487.78,94.47 488.07,96.03 489.50,98.00 C490.93,99.97 493.38,101.68 495.30,103.60 C497.22,105.52 499.00,108.05 501.00,109.50 C503.00,110.95 504.97,112.08 507.30,112.30 C509.63,112.52 512.55,111.85 515.00,110.80 C517.45,109.75 519.98,107.67 522.00,106.00 C524.02,104.33 526.38,99.97 527.10,100.80 C527.82,101.63 526.72,107.65 526.30,111.00 C525.88,114.35 525.40,118.07 524.60,120.90 C523.80,123.73 522.47,126.08 521.50,128.00 C520.53,129.92 520.45,130.82 518.80,132.40 C517.15,133.98 515.20,136.17 511.60,137.50 C508.00,138.83 501.63,139.90 497.20,140.40 C492.77,140.90 488.70,140.70 485.00,140.50 C481.30,140.30 478.00,140.28 475.00,139.20 C472.00,138.12 469.12,135.37 467.00,134.00 C464.88,132.63 463.80,132.20 462.30,131.00 C460.80,129.80 459.43,129.18 458.00,126.80 C456.57,124.42 455.13,120.30 453.70,116.70 C452.27,113.10 450.83,109.03 449.40,105.20 C447.97,101.37 446.53,97.30 445.10,93.70 C443.67,90.10 442.07,85.98 440.80,83.60 C439.53,81.22 438.55,79.92 437.50,79.40 C436.45,78.88 435.50,79.40 434.50,80.50 C433.50,81.60 432.58,83.25 431.50,86.00 C430.42,88.75 429.17,93.00 428.00,97.00 C426.83,101.00 425.67,106.17 424.50,110.00 C423.33,113.83 422.55,116.15 421.00,120.00 C419.45,123.85 417.12,129.77 415.20,133.10 C413.28,136.43 411.65,138.27 409.50,140.00 C407.35,141.73 405.38,142.08 402.30,143.50 C399.22,144.92 394.78,147.33 391.00,148.50 C387.22,149.67 383.37,149.72 379.60,150.50 C375.83,151.28 371.30,151.83 368.40,153.20 C365.50,154.57 363.87,157.42 362.20,158.70 C360.53,159.98 359.65,160.70 358.40,160.90 C357.15,161.10 356.15,159.97 354.70,159.90 C353.25,159.83 351.15,159.98 349.70,160.50 C348.25,161.02 347.03,161.65 346.00,163.00 C344.97,164.35 344.13,167.10 343.50,168.60 C342.87,170.10 342.42,171.43 342.20,172.00" fill="none" stroke="#2CE82C" stroke-width="1.5" stroke-linejoin="round" stroke-linecap="round" />
<path d="M341.50,172.00 C341.63,169.17 342.02,159.83 342.30,155.00 C342.58,150.17 342.90,146.33 343.20,143.00 C343.50,139.67 343.73,137.03 344.10,135.00 C344.47,132.97 344.98,131.63 345.40,130.80 C345.82,129.97 346.20,129.88 346.60,130.00 C347.00,130.12 347.43,130.75 347.80,131.50 C348.17,132.25 348.38,133.17 348.80,134.50 C349.22,135.83 349.77,138.33 350.30,139.50 C350.83,140.67 351.47,141.12 352.00,141.50 C352.53,141.88 352.00,141.68 353.50,141.80 C355.00,141.92 358.08,141.98 361.00,142.20 C363.92,142.42 366.00,142.53 371.00,143.10 C376.00,143.67 384.50,145.28 391.00,145.60 C397.50,145.92 404.33,145.88 410.00,145.00 C415.67,144.12 420.10,142.13 425.00,140.30 C429.90,138.47 435.33,136.22 439.40,134.00 C443.47,131.78 446.78,130.12 449.40,127.00 C452.02,123.88 453.18,120.37 455.10,115.30 C457.02,110.23 459.22,102.12 460.90,96.60 C462.58,91.08 464.00,86.13 465.20,82.20 C466.40,78.27 467.17,76.20 468.10,73.00 C469.03,69.80 469.87,65.87 470.80,63.00 C471.73,60.13 472.73,57.28 473.70,55.80 C474.67,54.32 475.52,53.85 476.60,54.10 C477.68,54.35 479.00,54.85 480.20,57.30 C481.40,59.75 482.48,64.25 483.80,68.80 C485.12,73.35 486.55,79.57 488.10,84.60 C489.65,89.63 491.67,95.35 493.10,99.00 C494.53,102.65 495.13,104.05 496.70,106.50 C498.27,108.95 500.25,112.02 502.50,113.70 C504.75,115.38 507.62,116.72 510.20,116.60 C512.78,116.48 515.70,114.43 518.00,113.00 C520.30,111.57 522.48,109.43 524.00,108.00 C525.52,106.57 526.68,103.40 527.10,104.40 C527.52,105.40 526.80,110.77 526.50,114.00 C526.20,117.23 526.05,121.13 525.30,123.80 C524.55,126.47 523.08,128.08 522.00,130.00 C520.92,131.92 520.80,133.72 518.80,135.30 C516.80,136.88 512.40,138.53 510.00,139.50 C507.60,140.47 507.57,140.60 504.40,141.10 C501.23,141.60 495.63,142.75 491.00,142.50 C486.37,142.25 479.77,140.68 476.60,139.60 C473.43,138.52 473.18,137.17 472.00,136.00 C470.82,134.83 470.63,135.57 469.50,132.60 C468.37,129.63 466.52,123.00 465.20,118.20 C463.88,113.40 462.68,108.60 461.60,103.80 C460.52,99.00 459.53,94.20 458.70,89.40 C457.87,84.60 457.38,79.50 456.60,75.00 C455.82,70.50 454.92,66.18 454.00,62.40 C453.08,58.62 452.07,55.18 451.10,52.30 C450.13,49.42 449.28,46.77 448.20,45.10 C447.12,43.43 445.80,42.42 444.60,42.30 C443.40,42.18 442.07,42.97 441.00,44.40 C439.93,45.83 439.15,48.13 438.20,50.90 C437.25,53.67 436.27,56.98 435.30,61.00 C434.33,65.02 433.25,70.87 432.40,75.00 C431.55,79.13 431.52,80.63 430.20,85.80 C428.88,90.97 426.03,100.13 424.50,106.00 C422.97,111.87 422.07,116.83 421.00,121.00 C419.93,125.17 419.55,127.83 418.10,131.00 C416.65,134.17 414.47,137.73 412.30,140.00 C410.13,142.27 408.65,143.02 405.10,144.60 C401.55,146.18 396.28,148.15 391.00,149.50 C385.72,150.85 378.40,151.80 373.40,152.70 C368.40,153.60 364.73,154.12 361.00,154.90 C357.27,155.68 353.50,156.37 351.00,157.40 C348.50,158.43 347.25,159.43 346.00,161.10 C344.75,162.77 344.13,165.58 343.50,167.40 C342.87,169.22 342.42,171.23 342.20,172.00" fill="none" stroke="#EE1C1C" stroke-width="1.5" stroke-linejoin="round" stroke-linecap="round" />
<path d="M341.80,172.00 C341.88,169.67 342.05,162.33 342.30,158.00 C342.55,153.67 342.95,148.97 343.30,146.00 C343.65,143.03 344.02,141.47 344.40,140.20 C344.78,138.93 345.13,138.68 345.60,138.40 C346.07,138.12 346.52,138.17 347.20,138.50 C347.88,138.83 348.65,139.75 349.70,140.40 C350.75,141.05 350.58,141.85 353.50,142.40 C356.42,142.95 360.95,143.07 367.20,143.70 C373.45,144.33 383.03,145.65 391.00,146.20 C398.97,146.75 407.67,147.70 415.00,147.00 C422.33,146.30 429.73,143.75 435.00,142.00 C440.27,140.25 443.27,138.33 446.60,136.50 C449.93,134.67 452.77,132.42 455.00,131.00 C457.23,129.58 458.53,129.33 460.00,128.00 C461.47,126.67 462.63,125.17 463.80,123.00 C464.97,120.83 465.97,118.00 467.00,115.00 C468.03,112.00 469.00,108.00 470.00,105.00 C471.00,102.00 472.00,98.92 473.00,97.00 C474.00,95.08 475.05,94.17 476.00,93.50 C476.95,92.83 477.78,92.95 478.70,93.00 C479.62,93.05 480.53,93.13 481.50,93.80 C482.47,94.47 482.92,94.40 484.50,97.00 C486.08,99.60 488.72,105.42 491.00,109.40 C493.28,113.38 495.80,118.27 498.20,120.90 C500.60,123.53 503.43,124.35 505.40,125.20 C507.37,126.05 507.90,126.37 510.00,126.00 C512.10,125.63 515.67,124.17 518.00,123.00 C520.33,121.83 522.48,120.07 524.00,119.00 C525.52,117.93 526.73,115.77 527.10,116.60 C527.47,117.43 526.87,121.37 526.20,124.00 C525.53,126.63 524.47,130.15 523.10,132.40 C521.73,134.65 519.92,136.05 518.00,137.50 C516.08,138.95 514.60,140.10 511.60,141.10 C508.60,142.10 503.60,142.90 500.00,143.50 C496.40,144.10 493.67,144.78 490.00,144.70 C486.33,144.62 481.00,143.95 478.00,143.00 C475.00,142.05 473.42,140.42 472.00,139.00 C470.58,137.58 470.63,136.05 469.50,134.50 C468.37,132.95 466.87,132.90 465.20,129.70 C463.53,126.50 461.42,119.62 459.50,115.30 C457.58,110.98 455.28,106.38 453.70,103.80 C452.12,101.22 451.20,100.65 450.00,99.80 C448.80,98.95 447.67,98.67 446.50,98.70 C445.33,98.73 444.20,99.15 443.00,100.00 C441.80,100.85 440.63,101.97 439.30,103.80 C437.97,105.63 436.13,108.75 435.00,111.00 C433.87,113.25 433.88,114.33 432.50,117.30 C431.12,120.27 428.87,124.97 426.70,128.80 C424.53,132.63 422.37,137.43 419.50,140.30 C416.63,143.17 414.25,144.18 409.50,146.00 C404.75,147.82 398.05,149.87 391.00,151.20 C383.95,152.53 372.20,153.38 367.20,154.00 C362.20,154.62 363.50,154.33 361.00,154.90 C358.50,155.47 354.50,156.57 352.20,157.40 C349.90,158.23 348.65,158.45 347.20,159.90 C345.75,161.35 344.33,164.08 343.50,166.10 C342.67,168.12 342.42,171.02 342.20,172.00" fill="none" stroke="#1A22E0" stroke-width="1.5" stroke-linejoin="round" stroke-linecap="round" />
<path d="M342.50,172.00 C342.55,170.00 342.58,163.67 342.80,160.00 C343.02,156.33 343.18,152.50 343.80,150.00 C344.42,147.50 345.47,145.93 346.50,145.00 C347.53,144.07 346.55,144.42 350.00,144.40 C353.45,144.38 360.37,144.50 367.20,144.90 C374.03,145.30 382.20,146.53 391.00,146.80 C399.80,147.07 411.83,147.47 420.00,146.50 C428.17,145.53 434.17,143.25 440.00,141.00 C445.83,138.75 450.80,136.23 455.00,133.00 C459.20,129.77 462.53,124.77 465.20,121.60 C467.87,118.43 469.10,115.55 471.00,114.00 C472.90,112.45 474.47,111.63 476.60,112.30 C478.73,112.97 481.40,115.73 483.80,118.00 C486.20,120.27 488.05,123.50 491.00,125.90 C493.95,128.30 497.50,131.22 501.50,132.40 C505.50,133.58 511.58,133.40 515.00,133.00 C518.42,132.60 519.98,131.05 522.00,130.00 C524.02,128.95 526.35,126.53 527.10,126.70 C527.85,126.87 526.80,129.57 526.50,131.00 C526.20,132.43 526.38,133.63 525.30,135.30 C524.22,136.97 521.80,139.55 520.00,141.00 C518.20,142.45 517.00,143.17 514.50,144.00 C512.00,144.83 507.88,145.53 505.00,146.00 C502.12,146.47 499.70,146.53 497.20,146.80 C494.70,147.07 493.43,147.65 490.00,147.60 C486.57,147.55 480.27,147.60 476.60,146.50 C472.93,145.40 470.62,142.75 468.00,141.00 C465.38,139.25 463.28,137.40 460.90,136.00 C458.52,134.60 455.85,134.10 453.70,132.60 C451.55,131.10 449.67,128.23 448.00,127.00 C446.33,125.77 445.20,125.40 443.70,125.20 C442.20,125.00 440.45,125.30 439.00,125.80 C437.55,126.30 436.80,126.50 435.00,128.20 C433.20,129.90 430.53,133.50 428.20,136.00 C425.87,138.50 424.60,141.28 421.00,143.20 C417.40,145.12 411.60,146.28 406.60,147.50 C401.60,148.72 396.53,149.68 391.00,150.50 C385.47,151.32 378.40,151.70 373.40,152.40 C368.40,153.10 364.53,153.97 361.00,154.70 C357.47,155.43 354.50,156.13 352.20,156.80 C349.90,157.47 348.65,157.35 347.20,158.70 C345.75,160.05 344.27,162.68 343.50,164.90 C342.73,167.12 342.75,170.82 342.60,172.00" fill="none" stroke="#F23CF2" stroke-width="1.5" stroke-linejoin="round" stroke-linecap="round" />
<path d="M342.20,170.00 C342.25,168.00 342.32,161.33 342.50,158.00 C342.68,154.67 342.72,152.00 343.30,150.00 C343.88,148.00 344.10,146.63 346.00,146.00 C347.90,145.37 347.20,145.97 354.70,146.20 C362.20,146.43 381.15,147.52 391.00,147.40 C400.85,147.28 407.60,146.32 413.80,145.50 C420.00,144.68 423.83,143.58 428.20,142.50 C432.57,141.42 436.70,140.17 440.00,139.00 C443.30,137.83 445.23,137.33 448.00,135.50 C450.77,133.67 453.97,132.08 456.60,128.00 C459.23,123.92 461.65,116.67 463.80,111.00 C465.95,105.33 467.97,98.17 469.50,94.00 C471.03,89.83 472.00,87.73 473.00,86.00 C474.00,84.27 474.67,83.85 475.50,83.60 C476.33,83.35 477.10,83.85 478.00,84.50 C478.90,85.15 479.58,84.92 480.90,87.50 C482.22,90.08 484.38,96.92 485.90,100.00 C487.42,103.08 488.43,104.17 490.00,106.00 C491.57,107.83 493.22,109.00 495.30,111.00 C497.38,113.00 500.50,116.47 502.50,118.00 C504.50,119.53 505.22,119.83 507.30,120.20 C509.38,120.57 512.55,120.48 515.00,120.20 C517.45,119.92 519.98,119.10 522.00,118.50 C524.02,117.90 526.40,116.02 527.10,116.60 C527.80,117.18 526.62,120.08 526.20,122.00 C525.78,123.92 525.63,126.18 524.60,128.10 C523.57,130.02 521.45,132.05 520.00,133.50 C518.55,134.95 518.50,135.78 515.90,136.80 C513.30,137.82 508.72,138.98 504.40,139.60 C500.08,140.22 493.43,140.38 490.00,140.50 C486.57,140.62 486.30,140.63 483.80,140.30 C481.30,139.97 477.13,139.22 475.00,138.50 C472.87,137.78 472.15,136.98 471.00,136.00 C469.85,135.02 469.55,135.10 468.10,132.60 C466.65,130.10 464.22,124.85 462.30,121.00 C460.38,117.15 458.32,112.33 456.60,109.50 C454.88,106.67 453.32,105.32 452.00,104.00 C450.68,102.68 450.03,101.85 448.70,101.60 C447.37,101.35 445.32,101.90 444.00,102.50 C442.68,103.10 442.30,102.83 440.80,105.20 C439.30,107.57 437.10,112.28 435.00,116.70 C432.90,121.12 430.70,127.82 428.20,131.70 C425.70,135.58 423.03,137.78 420.00,140.00 C416.97,142.22 414.83,143.42 410.00,145.00 C405.17,146.58 397.10,148.53 391.00,149.50 C384.90,150.47 378.40,150.32 373.40,150.80 C368.40,151.28 364.73,151.92 361.00,152.40 C357.27,152.88 353.50,152.97 351.00,153.70 C348.50,154.43 347.27,155.58 346.00,156.80 C344.73,158.02 344.00,159.47 343.40,161.00 C342.80,162.53 342.60,164.50 342.40,166.00 C342.20,167.50 342.23,169.33 342.20,170.00" fill="none" stroke="#38ECEE" stroke-width="1.5" stroke-linejoin="round" stroke-linecap="round" />
</g>
<g clip-path="url(#cc)">
<path d="M59.60,239.30 C59.62,238.25 59.55,234.55 59.70,233.00 C59.85,231.45 60.03,230.78 60.50,230.00 C60.97,229.22 61.58,228.67 62.50,228.30 C63.42,227.93 64.30,227.92 66.00,227.80 C67.70,227.68 67.95,227.68 72.70,227.60 C77.45,227.52 84.95,227.23 94.50,227.30 C104.05,227.37 119.92,227.78 130.00,228.00 C140.08,228.22 147.83,228.60 155.00,228.60 C162.17,228.60 164.67,228.40 173.00,228.00 C181.33,227.60 195.12,226.87 205.00,226.20 C214.88,225.53 225.80,224.53 232.30,224.00 C238.80,223.47 241.30,223.28 244.00,223.00 C246.70,222.72 247.78,222.05 248.50,222.30 C249.22,222.55 248.72,223.85 248.30,224.50 C247.88,225.15 247.22,225.73 246.00,226.20 C244.78,226.67 244.50,226.92 241.00,227.30 C237.50,227.68 230.08,228.13 225.00,228.50 C219.92,228.87 216.33,229.08 210.50,229.50 C204.67,229.92 196.25,230.55 190.00,231.00 C183.75,231.45 178.83,232.20 173.00,232.20 C167.17,232.20 162.17,231.12 155.00,231.00 C147.83,230.88 138.25,231.22 130.00,231.50 C121.75,231.78 113.00,232.32 105.50,232.70 C98.00,233.08 90.47,233.43 85.00,233.80 C79.53,234.17 76.03,234.53 72.70,234.90 C69.37,235.27 66.82,235.63 65.00,236.00 C63.18,236.37 62.70,236.55 61.80,237.10 C60.90,237.65 59.97,238.93 59.60,239.30" fill="none" stroke="#2CE82C" stroke-width="1.5" stroke-linejoin="round" stroke-linecap="round" />
<path d="M61.50,230.50 C61.75,230.28 56.58,229.45 63.00,229.20 C69.42,228.95 87.17,229.03 100.00,229.00 C112.83,228.97 129.17,229.07 140.00,229.00 C150.83,228.93 159.50,228.80 165.00,228.60 C170.50,228.40 171.00,228.40 173.00,227.80 C175.00,227.20 175.83,225.88 177.00,225.00 C178.17,224.12 178.87,223.10 180.00,222.50 C181.13,221.90 182.47,221.40 183.80,221.40 C185.13,221.40 186.80,222.10 188.00,222.50 C189.20,222.90 189.50,223.33 191.00,223.80 C192.50,224.27 194.67,224.98 197.00,225.30 C199.33,225.62 201.17,225.78 205.00,225.70 C208.83,225.62 215.00,225.12 220.00,224.80 C225.00,224.48 230.25,224.18 235.00,223.80 C239.75,223.42 246.25,222.72 248.50,222.50" fill="none" stroke="#2CE82C" stroke-width="1.5" stroke-linejoin="round" stroke-linecap="round" stroke-dasharray="3.2,2" stroke-linecap="butt"/>
<path d="M59.30,268.00 C59.32,267.00 59.28,263.75 59.40,262.00 C59.52,260.25 59.60,258.75 60.00,257.50 C60.40,256.25 60.97,255.25 61.80,254.50 C62.63,253.75 63.90,253.35 65.00,253.00 C66.10,252.65 66.02,252.68 68.40,252.40 C70.78,252.12 75.67,251.30 79.30,251.30 C82.93,251.30 86.93,251.78 90.20,252.40 C93.47,253.02 94.53,254.40 98.90,255.00 C103.27,255.60 108.72,256.07 116.40,256.00 C124.08,255.93 135.77,254.92 145.00,254.60 C154.23,254.28 164.53,254.47 171.80,254.10 C179.07,253.73 182.15,252.95 188.60,252.40 C195.05,251.85 202.77,251.37 210.50,250.80 C218.23,250.23 228.67,249.58 235.00,249.00 C241.33,248.42 246.33,247.22 248.50,247.30 C250.67,247.38 248.58,248.63 248.00,249.50 C247.42,250.37 246.17,251.67 245.00,252.50 C243.83,253.33 244.33,253.87 241.00,254.50 C237.67,255.13 230.08,255.75 225.00,256.30 C219.92,256.85 216.33,257.22 210.50,257.80 C204.67,258.38 196.18,259.25 190.00,259.80 C183.82,260.35 178.40,260.82 173.40,261.10 C168.40,261.38 164.73,261.72 160.00,261.50 C155.27,261.28 150.45,260.38 145.00,259.80 C139.55,259.22 133.13,258.25 127.30,258.00 C121.47,257.75 115.47,258.10 110.00,258.30 C104.53,258.50 98.97,258.73 94.50,259.20 C90.03,259.67 86.83,260.38 83.20,261.10 C79.57,261.82 75.43,262.77 72.70,263.50 C69.97,264.23 68.58,264.92 66.80,265.50 C65.02,266.08 63.25,266.58 62.00,267.00 C60.75,267.42 59.75,267.83 59.30,268.00" fill="none" stroke="#EE1C1C" stroke-width="1.5" stroke-linejoin="round" stroke-linecap="round" />
<path d="M61.50,257.00 C61.75,256.77 56.58,255.80 63.00,255.60 C69.42,255.40 86.33,255.87 100.00,255.80 C113.67,255.73 134.17,255.42 145.00,255.20 C155.83,254.98 160.53,254.73 165.00,254.50 C169.47,254.27 170.13,254.30 171.80,253.80 C173.47,253.30 173.80,252.40 175.00,251.50 C176.20,250.60 177.67,249.27 179.00,248.40 C180.33,247.53 181.40,246.87 183.00,246.30 C184.60,245.73 186.93,245.17 188.60,245.00 C190.27,244.83 191.60,245.13 193.00,245.30 C194.40,245.47 195.00,245.52 197.00,246.00 C199.00,246.48 202.03,247.63 205.00,248.20 C207.97,248.77 210.63,249.27 214.80,249.40 C218.97,249.53 224.38,249.32 230.00,249.00 C235.62,248.68 245.42,247.75 248.50,247.50" fill="none" stroke="#EE1C1C" stroke-width="1.5" stroke-linejoin="round" stroke-linecap="round" stroke-dasharray="3.2,2" stroke-linecap="butt"/>
<line x1="171.9" y1="214.6" x2="171.9" y2="384.9" stroke="#EE1C1C" stroke-width="1.2" stroke-dasharray="3.2,2"/>
<path d="M59.20,296.00 C59.22,295.08 59.17,291.75 59.30,290.50 C59.43,289.25 59.47,289.22 60.00,288.50 C60.53,287.78 61.37,286.85 62.50,286.20 C63.63,285.55 64.27,284.97 66.80,284.60 C69.33,284.23 73.15,284.10 77.70,284.00 C82.25,283.90 89.55,283.92 94.10,284.00 C98.65,284.08 96.52,284.32 105.00,284.50 C113.48,284.68 132.50,285.27 145.00,285.10 C157.50,284.93 169.08,284.05 180.00,283.50 C190.92,282.95 201.33,282.22 210.50,281.80 C219.67,281.38 228.67,281.38 235.00,281.00 C241.33,280.62 246.33,279.42 248.50,279.50 C250.67,279.58 248.58,280.92 248.00,281.50 C247.42,282.08 246.33,282.58 245.00,283.00 C243.67,283.42 245.75,283.47 240.00,284.00 C234.25,284.53 220.50,285.53 210.50,286.20 C200.50,286.87 190.92,287.45 180.00,288.00 C169.08,288.55 157.50,289.23 145.00,289.50 C132.50,289.77 116.22,289.33 105.00,289.60 C93.78,289.87 84.07,290.67 77.70,291.10 C71.33,291.53 69.52,291.75 66.80,292.20 C64.08,292.65 62.67,293.17 61.40,293.80 C60.13,294.43 59.57,295.63 59.20,296.00" fill="none" stroke="#1A22E0" stroke-width="1.5" stroke-linejoin="round" stroke-linecap="round" />
<path d="M60.50,289.50 C60.65,289.32 60.90,288.78 61.40,288.40 C61.90,288.02 62.60,287.50 63.50,287.20 C64.40,286.90 60.72,286.72 66.80,286.60 C72.88,286.48 86.97,286.55 100.00,286.50 C113.03,286.45 133.33,286.50 145.00,286.30 C156.67,286.10 164.18,285.63 170.00,285.30 C175.82,284.97 177.07,284.93 179.90,284.30 C182.73,283.67 184.45,282.47 187.00,281.50 C189.55,280.53 192.70,279.50 195.20,278.50 C197.70,277.50 199.63,276.32 202.00,275.50 C204.37,274.68 207.07,273.78 209.40,273.60 C211.73,273.42 213.63,273.93 216.00,274.40 C218.37,274.87 221.10,275.80 223.60,276.40 C226.10,277.00 228.47,277.53 231.00,278.00 C233.53,278.47 235.88,278.90 238.80,279.20 C241.72,279.50 246.88,279.70 248.50,279.80" fill="none" stroke="#1A22E0" stroke-width="1.5" stroke-linejoin="round" stroke-linecap="round" stroke-dasharray="3.2,2" stroke-linecap="butt"/>
<line x1="179.2" y1="276.4" x2="179.2" y2="384.9" stroke="#1A22E0" stroke-width="1.2" stroke-dasharray="3.2,2"/>
<path d="M60.00,325.30 C60.00,324.08 59.92,319.80 60.00,318.00 C60.08,316.20 60.03,315.53 60.50,314.50 C60.97,313.47 61.22,312.30 62.80,311.80 C64.38,311.30 66.22,311.53 70.00,311.50 C73.78,311.47 80.63,311.42 85.50,311.60 C90.37,311.78 91.78,312.33 99.20,312.60 C106.62,312.87 122.37,313.05 130.00,313.20 C137.63,313.35 136.43,313.57 145.00,313.50 C153.57,313.43 170.02,313.12 181.40,312.80 C192.78,312.48 203.43,312.07 213.30,311.60 C223.17,311.13 234.72,310.57 240.60,310.00 C246.48,309.43 247.33,308.20 248.60,308.20 C249.87,308.20 248.63,309.45 248.20,310.00 C247.77,310.55 247.27,311.03 246.00,311.50 C244.73,311.97 246.05,312.22 240.60,312.80 C235.15,313.38 223.17,314.17 213.30,315.00 C203.43,315.83 190.28,317.38 181.40,317.80 C172.52,318.22 166.07,317.65 160.00,317.50 C153.93,317.35 151.67,316.93 145.00,316.90 C138.33,316.87 127.50,317.15 120.00,317.30 C112.50,317.45 105.83,317.52 100.00,317.80 C94.17,318.08 89.30,318.52 85.00,319.00 C80.70,319.48 77.37,320.12 74.20,320.70 C71.03,321.28 67.90,322.00 66.00,322.50 C64.10,323.00 63.80,323.23 62.80,323.70 C61.80,324.17 60.47,325.03 60.00,325.30" fill="none" stroke="#F23CF2" stroke-width="1.5" stroke-linejoin="round" stroke-linecap="round" />
<path d="M61.50,315.50 C61.75,315.25 56.58,314.28 63.00,314.00 C69.42,313.72 86.33,313.87 100.00,313.80 C113.67,313.73 132.50,313.73 145.00,313.60 C157.50,313.47 168.93,313.18 175.00,313.00 C181.07,312.82 179.77,313.10 181.40,312.50 C183.03,311.90 183.53,310.57 184.80,309.40 C186.07,308.23 187.28,306.53 189.00,305.50 C190.72,304.47 193.10,303.45 195.10,303.20 C197.10,302.95 199.10,303.62 201.00,304.00 C202.90,304.38 204.67,305.03 206.50,305.50 C208.33,305.97 210.10,306.42 212.00,306.80 C213.90,307.18 214.90,307.60 217.90,307.80 C220.90,308.00 224.88,307.93 230.00,308.00 C235.12,308.07 245.50,308.17 248.60,308.20" fill="none" stroke="#F23CF2" stroke-width="1.5" stroke-linejoin="round" stroke-linecap="round" stroke-dasharray="3.2,2" stroke-linecap="butt"/>
<line x1="181.4" y1="311.6" x2="181.4" y2="384.9" stroke="#F23CF2" stroke-width="1.2" stroke-dasharray="3.2,2"/>
<path d="M60.00,353.80 C60.00,353.00 59.92,350.22 60.00,349.00 C60.08,347.78 60.17,347.13 60.50,346.50 C60.83,345.87 61.25,345.52 62.00,345.20 C62.75,344.88 62.00,344.73 65.00,344.60 C68.00,344.47 72.50,344.45 80.00,344.40 C87.50,344.35 99.17,344.33 110.00,344.30 C120.83,344.27 131.95,344.52 145.00,344.20 C158.05,343.88 175.02,343.02 188.30,342.40 C201.58,341.78 215.22,341.27 224.70,340.50 C234.18,339.73 241.22,339.00 245.20,337.80 C249.18,336.60 248.07,333.43 248.60,333.30 C249.13,333.17 248.75,335.88 248.40,337.00 C248.05,338.12 247.42,339.10 246.50,340.00 C245.58,340.90 246.53,341.43 242.90,342.40 C239.27,343.37 233.43,344.85 224.70,345.80 C215.97,346.75 201.28,347.65 190.50,348.10 C179.72,348.55 167.58,348.40 160.00,348.50 C152.42,348.60 153.33,348.57 145.00,348.70 C136.67,348.83 120.00,349.03 110.00,349.30 C100.00,349.57 90.97,349.93 85.00,350.30 C79.03,350.67 77.53,351.13 74.20,351.50 C70.87,351.87 67.37,352.12 65.00,352.50 C62.63,352.88 60.83,353.58 60.00,353.80" fill="none" stroke="#38ECEE" stroke-width="1.5" stroke-linejoin="round" stroke-linecap="round" />
<path d="M61.50,346.50 C61.75,346.30 56.58,345.57 63.00,345.30 C69.42,345.03 86.33,345.03 100.00,344.90 C113.67,344.77 131.67,344.93 145.00,344.50 C158.33,344.07 172.98,342.83 180.00,342.30 C187.02,341.77 185.53,341.85 187.10,341.30 C188.67,340.75 187.25,339.50 189.40,339.00 C191.55,338.50 196.02,338.50 200.00,338.30 C203.98,338.10 207.47,338.18 213.30,337.80 C219.13,337.42 229.12,336.57 235.00,336.00 C240.88,335.43 246.33,334.67 248.60,334.40" fill="none" stroke="#38ECEE" stroke-width="1.5" stroke-linejoin="round" stroke-linecap="round" stroke-dasharray="3.2,2" stroke-linecap="butt"/>
<line x1="187.8" y1="332.1" x2="187.8" y2="384.9" stroke="#38ECEE" stroke-width="1.2" stroke-dasharray="3.2,2"/>
<path d="M60.00,378.30 C60.02,377.58 59.97,375.13 60.10,374.00 C60.23,372.87 60.35,372.22 60.80,371.50 C61.25,370.78 61.93,370.18 62.80,369.70 C63.67,369.22 64.87,368.87 66.00,368.60 C67.13,368.33 66.35,368.18 69.60,368.10 C72.85,368.02 80.57,367.92 85.50,368.10 C90.43,368.28 91.78,368.93 99.20,369.20 C106.62,369.47 122.37,369.62 130.00,369.70 C137.63,369.78 136.80,370.08 145.00,369.70 C153.20,369.32 171.23,367.97 179.20,367.40 C187.17,366.83 187.12,366.75 192.80,366.30 C198.48,365.85 205.33,365.35 213.30,364.70 C221.27,364.05 234.72,363.17 240.60,362.40 C246.48,361.63 247.30,360.17 248.60,360.10 C249.90,360.03 248.83,361.18 248.40,362.00 C247.97,362.82 247.30,364.10 246.00,365.00 C244.70,365.90 244.15,366.43 240.60,367.40 C237.05,368.37 233.05,369.85 224.70,370.80 C216.35,371.75 201.28,372.53 190.50,373.10 C179.72,373.67 167.58,373.93 160.00,374.20 C152.42,374.47 153.62,374.70 145.00,374.70 C136.38,374.70 117.47,374.15 108.30,374.20 C99.13,374.25 95.68,374.68 90.00,375.00 C84.32,375.32 78.20,375.77 74.20,376.10 C70.20,376.43 67.90,376.73 66.00,377.00 C64.10,377.27 63.80,377.48 62.80,377.70 C61.80,377.92 60.47,378.20 60.00,378.30" fill="none" stroke="#111111" stroke-width="1.5" stroke-linejoin="round" stroke-linecap="round" />
<path d="M60.50,370.80 C60.92,370.72 61.48,370.42 63.00,370.30 C64.52,370.18 63.43,370.07 69.60,370.10 C75.77,370.13 87.43,370.75 100.00,370.50 C112.57,370.25 129.92,369.12 145.00,368.60 C160.08,368.08 182.53,368.17 190.50,367.40 C198.47,366.63 190.90,364.95 192.80,364.00 C194.70,363.05 197.37,362.23 201.90,361.70 C206.43,361.17 212.22,361.18 220.00,360.80 C227.78,360.42 243.83,359.63 248.60,359.40" fill="none" stroke="#111111" stroke-width="1.5" stroke-linejoin="round" stroke-linecap="round" stroke-dasharray="3.2,2" stroke-linecap="butt"/>
<line x1="192.8" y1="354.9" x2="192.8" y2="384.9" stroke="#111111" stroke-width="1.2" stroke-dasharray="3.2,2"/>
</g>
<g clip-path="url(#cd)">
<path d="M339.60,365.30 C339.60,367.00 339.37,373.73 339.60,375.50 C339.83,377.27 337.60,375.82 341.00,375.90 C344.40,375.98 326.33,375.98 360.00,376.00 C393.67,376.02 512.50,376.00 543.00,376.00" fill="none" stroke="#111111" stroke-width="1.5" stroke-linejoin="round" stroke-linecap="round" />
<path d="M340.30,330.00 C340.35,335.00 340.32,353.83 340.60,360.00 C340.88,366.17 341.27,365.57 342.00,367.00 C342.73,368.43 342.83,368.13 345.00,368.60 C347.17,369.07 350.00,369.37 355.00,369.80 C360.00,370.23 364.17,370.78 375.00,371.20 C385.83,371.62 404.17,372.00 420.00,372.30 C435.83,372.60 449.50,372.80 470.00,373.00 C490.50,373.20 530.83,373.42 543.00,373.50" fill="none" stroke="#38ECEE" stroke-width="1.5" stroke-linejoin="round" stroke-linecap="round" />
<path d="M340.20,345.00 C340.25,347.83 340.23,358.57 340.50,362.00 C340.77,365.43 341.35,364.80 341.80,365.60 C342.25,366.40 342.00,366.47 343.20,366.80 C344.40,367.13 346.97,367.35 349.00,367.60 C351.03,367.85 351.07,367.97 355.40,368.30 C359.73,368.63 364.23,369.18 375.00,369.60 C385.77,370.02 404.17,370.47 420.00,370.80 C435.83,371.13 449.50,371.33 470.00,371.60 C490.50,371.87 530.83,372.27 543.00,372.40" fill="none" stroke="#F23CF2" stroke-width="1.5" stroke-linejoin="round" stroke-linecap="round" />
<path d="M340.10,325.00 C340.15,330.00 340.25,349.08 340.40,355.00 C340.55,360.92 340.72,359.03 341.00,360.50 C341.28,361.97 341.43,363.02 342.10,363.80 C342.77,364.58 343.80,364.82 345.00,365.20 C346.20,365.58 346.80,365.78 349.30,366.10 C351.80,366.42 355.72,366.77 360.00,367.10 C364.28,367.43 365.00,367.63 375.00,368.10 C385.00,368.57 404.17,369.40 420.00,369.90 C435.83,370.40 449.50,370.77 470.00,371.10 C490.50,371.43 530.83,371.77 543.00,371.90" fill="none" stroke="#1A22E0" stroke-width="1.5" stroke-linejoin="round" stroke-linecap="round" />
<path d="M340.10,210.00 C340.12,225.00 340.08,282.00 340.20,300.00 C340.32,318.00 340.48,313.42 340.80,318.00 C341.12,322.58 341.37,325.00 342.10,327.50 C342.83,330.00 343.67,331.33 345.20,333.00 C346.73,334.67 348.92,336.23 351.30,337.50 C353.68,338.77 355.55,339.28 359.50,340.60 C363.45,341.92 367.80,343.57 375.00,345.40 C382.20,347.23 392.63,349.87 402.70,351.60 C412.77,353.33 424.48,354.55 435.40,355.80 C446.32,357.05 457.28,358.07 468.20,359.10 C479.12,360.13 488.43,361.18 500.90,362.00 C513.37,362.82 535.98,363.67 543.00,364.00" fill="none" stroke="#EE1C1C" stroke-width="1.5" stroke-linejoin="round" stroke-linecap="round" />
<path d="M340.00,278.00 C340.03,286.67 340.08,318.67 340.20,330.00 C340.32,341.33 340.38,342.20 340.70,346.00 C341.02,349.80 341.47,351.27 342.10,352.80 C342.73,354.33 343.65,354.57 344.50,355.20 C345.35,355.83 345.38,355.97 347.20,356.60 C349.02,357.23 350.77,358.13 355.40,359.00 C360.03,359.87 364.38,360.75 375.00,361.80 C385.62,362.85 403.57,364.28 419.10,365.30 C434.63,366.32 454.72,367.25 468.20,367.90 C481.68,368.55 487.53,368.80 500.00,369.20 C512.47,369.60 535.83,370.12 543.00,370.30" fill="none" stroke="#2CE82C" stroke-width="1.5" stroke-linejoin="round" stroke-linecap="round" />
</g>
<line x1="156.30" y1="124.30" x2="176.10" y2="124.30" stroke="#111111" stroke-width="1.5"/>
<text x="181.20" y="127.15" font-size="8.65" text-anchor="start" >Pt/C(20%)</text>
<line x1="156.30" y1="132.30" x2="176.10" y2="132.30" stroke="#38ECEE" stroke-width="1.5"/>
<text x="181.20" y="135.15" font-size="8.65" text-anchor="start" >Pt/Co-PC800</text>
<line x1="156.30" y1="140.30" x2="176.10" y2="140.30" stroke="#F23CF2" stroke-width="1.5"/>
<text x="181.20" y="143.15" font-size="8.65" text-anchor="start" >Pt/Co-NCNT-HPC600</text>
<line x1="156.30" y1="148.30" x2="176.10" y2="148.30" stroke="#1A22E0" stroke-width="1.5"/>
<text x="181.20" y="151.15" font-size="8.65" text-anchor="start" >Pt/Co-NCNT-HPC700</text>
<line x1="156.30" y1="156.30" x2="176.10" y2="156.30" stroke="#EE1C1C" stroke-width="1.5"/>
<text x="181.20" y="159.15" font-size="8.65" text-anchor="start" >Pt/Co-NCNT-HPC800</text>
<line x1="156.30" y1="164.30" x2="176.10" y2="164.30" stroke="#2CE82C" stroke-width="1.5"/>
<text x="181.20" y="167.15" font-size="8.65" text-anchor="start" >Pt/Co-NCNT-HPC900</text>
<line x1="330.70" y1="19.85" x2="350.60" y2="19.85" stroke="#111111" stroke-width="1.5"/>
<text x="353.00" y="22.67" font-size="8.55" text-anchor="start" >Pt/C(20%)</text>
<line x1="330.70" y1="26.85" x2="350.60" y2="26.85" stroke="#38ECEE" stroke-width="1.5"/>
<text x="353.00" y="29.67" font-size="8.55" text-anchor="start" >Pt/Co-PC800</text>
<line x1="330.70" y1="34.70" x2="350.60" y2="34.70" stroke="#F23CF2" stroke-width="1.5"/>
<text x="353.00" y="37.52" font-size="8.55" text-anchor="start" >Pt/Co-NCNT-HPC600</text>
<line x1="330.70" y1="41.90" x2="350.60" y2="41.90" stroke="#1A22E0" stroke-width="1.5"/>
<text x="353.00" y="44.72" font-size="8.55" text-anchor="start" >Pt/Co-NCNT-HPC700</text>
<line x1="330.70" y1="49.30" x2="350.60" y2="49.30" stroke="#EE1C1C" stroke-width="1.5"/>
<text x="353.00" y="52.12" font-size="8.55" text-anchor="start" >Pt/Co-NCNT-HPC800</text>
<line x1="330.70" y1="56.50" x2="350.60" y2="56.50" stroke="#2CE82C" stroke-width="1.5"/>
<text x="353.00" y="59.32" font-size="8.55" text-anchor="start" >Pt/Co-NCNT-HPC900</text>
<line x1="427.60" y1="222.50" x2="449.00" y2="222.50" stroke="#111111" stroke-width="1.5"/>
<text x="451.80" y="225.52" font-size="9.15" text-anchor="start" >Pt/C(20%)</text>
<line x1="427.60" y1="233.80" x2="449.00" y2="233.80" stroke="#38ECEE" stroke-width="1.5"/>
<text x="451.80" y="236.82" font-size="9.15" text-anchor="start" >Pt/Co-PC800</text>
<line x1="427.60" y1="245.10" x2="449.00" y2="245.10" stroke="#F23CF2" stroke-width="1.5"/>
<text x="451.80" y="248.12" font-size="9.15" text-anchor="start" >Pt/Co-NCNT-HPC600</text>
<line x1="427.60" y1="256.40" x2="449.00" y2="256.40" stroke="#1A22E0" stroke-width="1.5"/>
<text x="451.80" y="259.42" font-size="9.15" text-anchor="start" >Pt/Co-NCNT-HPC700</text>
<line x1="427.60" y1="267.70" x2="449.00" y2="267.70" stroke="#EE1C1C" stroke-width="1.5"/>
<text x="451.80" y="270.72" font-size="9.15" text-anchor="start" >Pt/Co-NCNT-HPC800</text>
<line x1="427.60" y1="279.00" x2="449.00" y2="279.00" stroke="#2CE82C" stroke-width="1.5"/>
<text x="451.80" y="282.02" font-size="9.15" text-anchor="start" >Pt/Co-NCNT-HPC900</text>
<text x="53.50" y="224.00" font-size="8.1" text-anchor="start" >Pt/Co-NCNT-HPC900</text>
<text x="53.50" y="249.10" font-size="8.1" text-anchor="start" >Pt/Co-NCNT-HPC800</text>
<text x="53.50" y="280.70" font-size="8.1" text-anchor="start" >Pt/Co-NCNT-HPC700</text>
<text x="53.50" y="308.70" font-size="8.1" text-anchor="start" >Pt/Co-NCNT-HPC600</text>
<text x="53.50" y="339.60" font-size="8.1" text-anchor="start" >Pt/Co-PC800</text>
<text x="53.50" y="365.80" font-size="8.1" text-anchor="start" >Pt/C(20%)</text>
</g>
</svg></body></html>
